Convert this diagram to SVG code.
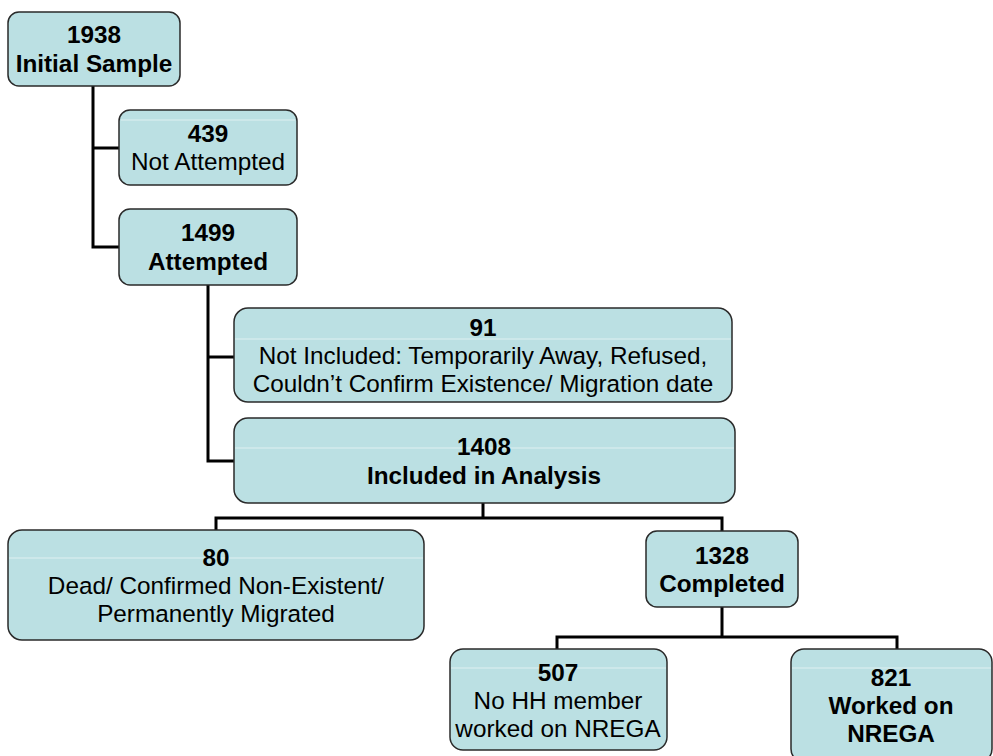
<svg xmlns="http://www.w3.org/2000/svg" width="993" height="756" viewBox="0 0 993 756">
<style>
.box{fill:#BBE0E3;stroke:#2a2a2a;stroke-width:1.5}
.gl{stroke:#fff;stroke-width:1;opacity:0.55}
.t{font-family:"Liberation Sans",Arial,sans-serif;font-size:24.3px;fill:#000;text-anchor:middle}
.b{font-weight:bold}
.c{fill:none;stroke:#000;stroke-width:3}
</style>
<rect width="993" height="756" fill="#fff"/>
<g id="connectors">
<path class="c" d="M93,86 V247 H119 M93,148 H119"/>
<path class="c" d="M208,285 V461 H234 M208,357 H234"/>
<path class="c" d="M483,503 V518 M216,530 V518 H722 V531"/>
<path class="c" d="M722,607 V637 M557,649 V637 H897 V649"/>
</g>
<g id="n1938">
<rect class="box" x="8" y="12" width="172" height="74" rx="11"/>
<text class="t b" x="94" y="43">1938</text>
<text class="t b" x="94" y="72">Initial Sample</text>
</g>
<g id="n439">
<rect class="box" x="119" y="110" width="178" height="75" rx="11"/>
<line class="gl" x1="121" y1="120" x2="295" y2="120"/>
<text class="t b" x="208" y="142">439</text>
<text class="t" x="208" y="170">Not Attempted</text>
</g>
<g id="n1499">
<rect class="box" x="119" y="209" width="178" height="76" rx="11"/>
<text class="t b" x="208" y="241">1499</text>
<text class="t b" x="208" y="270">Attempted</text>
</g>
<g id="n91">
<rect class="box" x="234" y="308" width="498" height="94" rx="14"/>
<line class="gl" x1="235" y1="339" x2="731" y2="339"/>
<text class="t b" x="483" y="336">91</text>
<text class="t" x="483" y="364">Not Included: Temporarily Away, Refused,</text>
<text class="t" x="483" y="392">Couldn’t Confirm Existence/ Migration date</text>
</g>
<g id="n1408">
<rect class="box" x="234" y="418" width="501" height="85" rx="14"/>
<line class="gl" x1="235" y1="448" x2="734" y2="448"/>
<text class="t b" x="484" y="455">1408</text>
<text class="t b" x="484" y="484">Included in Analysis</text>
</g>
<g id="n80">
<rect class="box" x="8" y="530" width="416" height="110" rx="14"/>
<line class="gl" x1="9" y1="558" x2="423" y2="558"/>
<text class="t b" x="216" y="566">80</text>
<text class="t" x="216" y="594">Dead/ Confirmed Non-Existent/</text>
<text class="t" x="216" y="622">Permanently Migrated</text>
</g>
<g id="n1328">
<rect class="box" x="646" y="531" width="152" height="76" rx="11"/>
<text class="t b" x="722" y="564">1328</text>
<text class="t b" x="722" y="592">Completed</text>
</g>
<g id="n507">
<rect class="box" x="450" y="649" width="217" height="101" rx="13"/>
<line class="gl" x1="451" y1="668" x2="666" y2="668"/>
<text class="t b" x="558" y="681">507</text>
<text class="t" x="558" y="709">No HH member</text>
<text class="t" x="558" y="737">worked on NREGA</text>
</g>
<g id="n821">
<rect class="box" x="791" y="649" width="201" height="113" rx="13"/>
<line class="gl" x1="792" y1="668" x2="991" y2="668"/>
<text class="t b" x="891" y="686">821</text>
<text class="t b" x="891" y="714">Worked on</text>
<text class="t b" x="891" y="742">NREGA</text>
</g>
</svg>
